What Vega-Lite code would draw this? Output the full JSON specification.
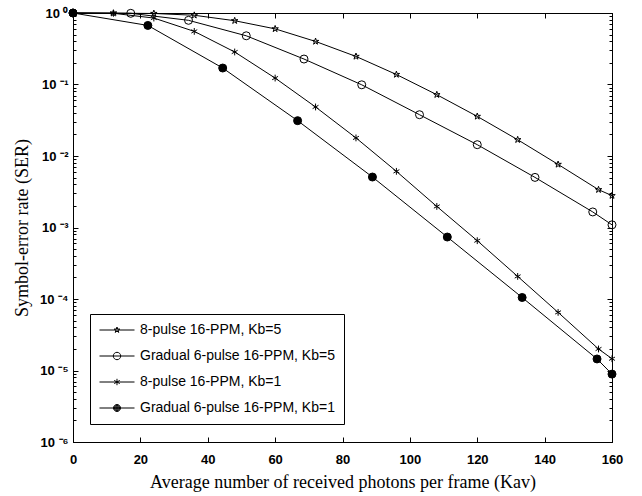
{
  "$schema": "https://vega.github.io/schema/vega-lite/v6.json",
  "width": 539,
  "height": 429,
  "autosize": {"type": "none"},
  "padding": {"left": 73, "top": 13, "right": 30, "bottom": 54},
  "background": "white",
  "config": {
    "view": {"stroke": "black", "strokeWidth": 1},
    "axis": {
      "grid": false,
      "domainColor": "black",
      "tickColor": "black",
      "labelColor": "black",
      "titleColor": "black",
      "labelFont": "Liberation Sans",
      "labelFontWeight": "bold",
      "labelFontSize": 13,
      "titleFont": "Liberation Serif",
      "titleFontWeight": "normal",
      "titleFontSize": 18
    }
  },
  "data": {
    "values": [
      {"series": "8-pulse 16-PPM, Kb=5", "x": 0, "y": 1.0},
      {"series": "8-pulse 16-PPM, Kb=5", "x": 12, "y": 0.995},
      {"series": "8-pulse 16-PPM, Kb=5", "x": 24, "y": 0.985},
      {"series": "8-pulse 16-PPM, Kb=5", "x": 36, "y": 0.93},
      {"series": "8-pulse 16-PPM, Kb=5", "x": 48, "y": 0.78},
      {"series": "8-pulse 16-PPM, Kb=5", "x": 60, "y": 0.6},
      {"series": "8-pulse 16-PPM, Kb=5", "x": 72, "y": 0.4},
      {"series": "8-pulse 16-PPM, Kb=5", "x": 84, "y": 0.247},
      {"series": "8-pulse 16-PPM, Kb=5", "x": 96, "y": 0.138},
      {"series": "8-pulse 16-PPM, Kb=5", "x": 108, "y": 0.072},
      {"series": "8-pulse 16-PPM, Kb=5", "x": 120, "y": 0.0358},
      {"series": "8-pulse 16-PPM, Kb=5", "x": 132, "y": 0.0169},
      {"series": "8-pulse 16-PPM, Kb=5", "x": 144, "y": 0.00763},
      {"series": "8-pulse 16-PPM, Kb=5", "x": 156, "y": 0.00338},
      {"series": "8-pulse 16-PPM, Kb=5", "x": 160, "y": 0.00279},
      {"series": "Gradual 6-pulse 16-PPM, Kb=5", "x": 0, "y": 1.0},
      {"series": "Gradual 6-pulse 16-PPM, Kb=5", "x": 17.14, "y": 0.99},
      {"series": "Gradual 6-pulse 16-PPM, Kb=5", "x": 34.29, "y": 0.79},
      {"series": "Gradual 6-pulse 16-PPM, Kb=5", "x": 51.43, "y": 0.48},
      {"series": "Gradual 6-pulse 16-PPM, Kb=5", "x": 68.57, "y": 0.227},
      {"series": "Gradual 6-pulse 16-PPM, Kb=5", "x": 85.71, "y": 0.099},
      {"series": "Gradual 6-pulse 16-PPM, Kb=5", "x": 102.86, "y": 0.0378},
      {"series": "Gradual 6-pulse 16-PPM, Kb=5", "x": 120, "y": 0.0144},
      {"series": "Gradual 6-pulse 16-PPM, Kb=5", "x": 137.14, "y": 0.00502},
      {"series": "Gradual 6-pulse 16-PPM, Kb=5", "x": 154.29, "y": 0.00165},
      {"series": "Gradual 6-pulse 16-PPM, Kb=5", "x": 160, "y": 0.00109},
      {"series": "8-pulse 16-PPM, Kb=1", "x": 0, "y": 1.0},
      {"series": "8-pulse 16-PPM, Kb=1", "x": 12, "y": 0.99},
      {"series": "8-pulse 16-PPM, Kb=1", "x": 24, "y": 0.85},
      {"series": "8-pulse 16-PPM, Kb=1", "x": 36, "y": 0.553},
      {"series": "8-pulse 16-PPM, Kb=1", "x": 48, "y": 0.285},
      {"series": "8-pulse 16-PPM, Kb=1", "x": 60, "y": 0.123},
      {"series": "8-pulse 16-PPM, Kb=1", "x": 72, "y": 0.0485},
      {"series": "8-pulse 16-PPM, Kb=1", "x": 84, "y": 0.0179},
      {"series": "8-pulse 16-PPM, Kb=1", "x": 96, "y": 0.0061},
      {"series": "8-pulse 16-PPM, Kb=1", "x": 108, "y": 0.00197},
      {"series": "8-pulse 16-PPM, Kb=1", "x": 120, "y": 0.000654},
      {"series": "8-pulse 16-PPM, Kb=1", "x": 132, "y": 0.000207},
      {"series": "8-pulse 16-PPM, Kb=1", "x": 144, "y": 0.000065},
      {"series": "8-pulse 16-PPM, Kb=1", "x": 156, "y": 0.00002},
      {"series": "8-pulse 16-PPM, Kb=1", "x": 160, "y": 0.0000146},
      {"series": "Gradual 6-pulse 16-PPM, Kb=1", "x": 0, "y": 1.0},
      {"series": "Gradual 6-pulse 16-PPM, Kb=1", "x": 22.22, "y": 0.67},
      {"series": "Gradual 6-pulse 16-PPM, Kb=1", "x": 44.44, "y": 0.17},
      {"series": "Gradual 6-pulse 16-PPM, Kb=1", "x": 66.67, "y": 0.0312},
      {"series": "Gradual 6-pulse 16-PPM, Kb=1", "x": 88.89, "y": 0.00508},
      {"series": "Gradual 6-pulse 16-PPM, Kb=1", "x": 111.11, "y": 0.000736},
      {"series": "Gradual 6-pulse 16-PPM, Kb=1", "x": 133.33, "y": 0.000105},
      {"series": "Gradual 6-pulse 16-PPM, Kb=1", "x": 155.56, "y": 0.0000145},
      {"series": "Gradual 6-pulse 16-PPM, Kb=1", "x": 160, "y": 0.0000089}
    ]
  },
  "layer": [
    {
      "mark": {"type": "line", "stroke": "black", "strokeWidth": 1},
      "encoding": {
        "x": {
          "field": "x", "type": "quantitative",
          "scale": {"domain": [0, 160], "nice": false, "zero": false},
          "axis": {
            "orient": "bottom",
            "values": [0, 20, 40, 60, 80, 100, 120, 140, 160],
            "tickSize": -5,
            "labelPadding": 16,
            "labelFlush": false,
            "title": "Average number of received photons per frame (Kav)",
            "titlePadding": 7
          }
        },
        "y": {
          "field": "y", "type": "quantitative",
          "scale": {"type": "log", "domain": [0.000001, 1], "nice": false},
          "axis": {
            "orient": "left",
            "values": [0.000001, 0.00001, 0.0001, 0.001, 0.01, 0.1, 1],
            "tickSize": -5,
            "labelPadding": 10,
            "labelFontSize": 13,
            "labelFlush": false,
            "labelExpr": "'10 ' + ['⁰','⁻¹','⁻²','⁻³','⁻⁴','⁻⁵','⁻⁶'][round(-log(datum.value)/LN10)]",
            "title": "Symbol-error rate (SER)",
            "titlePadding": 8
          }
        },
        "detail": {"field": "series"}
      }
    },
    {
      "mark": {"type": "point", "filled": true, "stroke": "black", "size": 64, "opacity": 1},
      "encoding": {
        "x": {
          "field": "x", "type": "quantitative",
          "scale": {"domain": [0, 160], "nice": false, "zero": false},
          "axis": {
            "orient": "top",
            "values": [0, 20, 40, 60, 80, 100, 120, 140, 160],
            "tickSize": -5,
            "labels": false,
            "title": null
          }
        },
        "y": {
          "field": "y", "type": "quantitative",
          "scale": {"type": "log", "domain": [0.000001, 1], "nice": false},
          "axis": {
            "orient": "right",
            "values": [0.000001, 0.00001, 0.0001, 0.001, 0.01, 0.1, 1],
            "tickSize": -5,
            "labels": false,
            "title": null
          }
        },
        "shape": {
          "field": "series", "type": "nominal",
          "legend": null,
          "scale": {
            "domain": ["8-pulse 16-PPM, Kb=5", "Gradual 6-pulse 16-PPM, Kb=5", "8-pulse 16-PPM, Kb=1", "Gradual 6-pulse 16-PPM, Kb=1"],
            "range": [
              "M0,-0.85L0.191,-0.263L0.808,-0.263L0.309,0.1L0.5,0.688L0,0.325L-0.5,0.688L-0.309,0.1L-0.808,-0.263L-0.191,-0.263Z",
              "circle",
              "M0,-0.85L0,0.85M-0.736,-0.425L0.736,0.425M-0.736,0.425L0.736,-0.425",
              "circle"
            ]
          }
        },
        "fill": {
          "field": "series", "type": "nominal",
          "legend": null,
          "scale": {
            "domain": ["8-pulse 16-PPM, Kb=5", "Gradual 6-pulse 16-PPM, Kb=5", "8-pulse 16-PPM, Kb=1", "Gradual 6-pulse 16-PPM, Kb=1"],
            "range": ["transparent", "transparent", "black", "black"]
          }
        },
        "strokeWidth": {
          "field": "series", "type": "nominal",
          "legend": null,
          "scale": {
            "domain": ["8-pulse 16-PPM, Kb=5", "Gradual 6-pulse 16-PPM, Kb=5", "8-pulse 16-PPM, Kb=1", "Gradual 6-pulse 16-PPM, Kb=1"],
            "range": [1, 1, 1.6, 1]
          }
        }
      }
    },
    {
      "mark": {"type": "point", "filled": true, "opacity": 0},
      "encoding": {
        "y": {
          "field": "y", "type": "quantitative",
          "scale": {"type": "log", "domain": [0.000001, 1], "nice": false},
          "axis": {
            "orient": "left",
            "values": [0.000002, 0.000003, 0.000004, 0.000005, 0.000006, 0.000007, 0.000008, 0.000009, 0.00002, 0.00003, 0.00004, 0.00005, 0.00006, 0.00007, 0.00008, 0.00009, 0.0002, 0.0003, 0.0004, 0.0005, 0.0006, 0.0007, 0.0008, 0.0009, 0.002, 0.003, 0.004, 0.005, 0.006, 0.007, 0.008, 0.009, 0.02, 0.03, 0.04, 0.05, 0.06, 0.07, 0.08, 0.09, 0.2, 0.3, 0.4, 0.5, 0.6, 0.7, 0.8, 0.9],
            "tickSize": -3,
            "labels": false,
            "domain": false,
            "title": null
          }
        },
        "shape": {
          "field": "series", "type": "nominal",
          "scale": {
            "domain": ["8-pulse 16-PPM, Kb=5", "Gradual 6-pulse 16-PPM, Kb=5", "8-pulse 16-PPM, Kb=1", "Gradual 6-pulse 16-PPM, Kb=1"],
            "range": [
              "M-1.083,0L4.75,0M1.833,-0.5L1.945,-0.155L2.309,-0.155L2.014,0.059L2.127,0.405L1.833,0.19L1.539,0.405L1.652,0.059L1.357,-0.155L1.721,-0.155Z",
              "M-1.083,0L4.75,0M1.216,0A0.617,0.617,0,1,0,2.45,0A0.617,0.617,0,1,0,1.216,0Z",
              "M-1.083,0L4.75,0M1.833,-0.533L1.833,0.533M1.371,-0.267L2.295,0.267M1.371,0.267L2.295,-0.267M1.75,0L1.916,0",
              "M-1.083,0L4.75,0M1.25,0A0.583,0.583,0,1,0,2.416,0A0.583,0.583,0,1,0,1.25,0ZM1.375,0A0.458,0.458,0,1,0,2.291,0A0.458,0.458,0,1,0,1.375,0ZM1.5,0A0.333,0.333,0,1,0,2.166,0A0.333,0.333,0,1,0,1.5,0ZM1.625,0A0.208,0.208,0,1,0,2.041,0A0.208,0.208,0,1,0,1.625,0ZM1.75,0A0.083,0.083,0,1,0,1.916,0A0.083,0.083,0,1,0,1.75,0Z"
            ]
          },
          "legend": {
            "title": null,
            "orient": "none",
            "legendX": 17,
            "legendY": 301,
            "padding": 9,
            "strokeColor": "black",
            "fillColor": "white",
            "symbolSize": 144,
            "symbolOpacity": 1,
            "symbolFillColor": "transparent",
            "symbolStrokeColor": "black",
            "symbolStrokeWidth": 1,
            "labelFont": "Liberation Sans",
            "labelFontSize": 14,
            "labelColor": "black",
            "labelOffset": 27,
            "rowPadding": 12,
            "labelLimit": 300,
            "encoding": {
              "symbols": {
                "fill": {"value": "transparent"},
                "stroke": {"value": "black"},
                "strokeWidth": {"value": 1},
                "opacity": {"value": 1}
              }
            }
          }
        }
      }
    },
    {
      "mark": {"type": "point", "opacity": 0},
      "encoding": {
        "y": {
          "field": "y", "type": "quantitative",
          "scale": {"type": "log", "domain": [0.000001, 1], "nice": false},
          "axis": {
            "orient": "right",
            "values": [0.000002, 0.000003, 0.000004, 0.000005, 0.000006, 0.000007, 0.000008, 0.000009, 0.00002, 0.00003, 0.00004, 0.00005, 0.00006, 0.00007, 0.00008, 0.00009, 0.0002, 0.0003, 0.0004, 0.0005, 0.0006, 0.0007, 0.0008, 0.0009, 0.002, 0.003, 0.004, 0.005, 0.006, 0.007, 0.008, 0.009, 0.02, 0.03, 0.04, 0.05, 0.06, 0.07, 0.08, 0.09, 0.2, 0.3, 0.4, 0.5, 0.6, 0.7, 0.8, 0.9],
            "tickSize": -3,
            "labels": false,
            "domain": false,
            "title": null
          }
        }
      }
    }
  ],
  "resolve": {
    "scale": {"shape": "independent"},
    "axis": {"x": "independent", "y": "independent"}
  }
}
